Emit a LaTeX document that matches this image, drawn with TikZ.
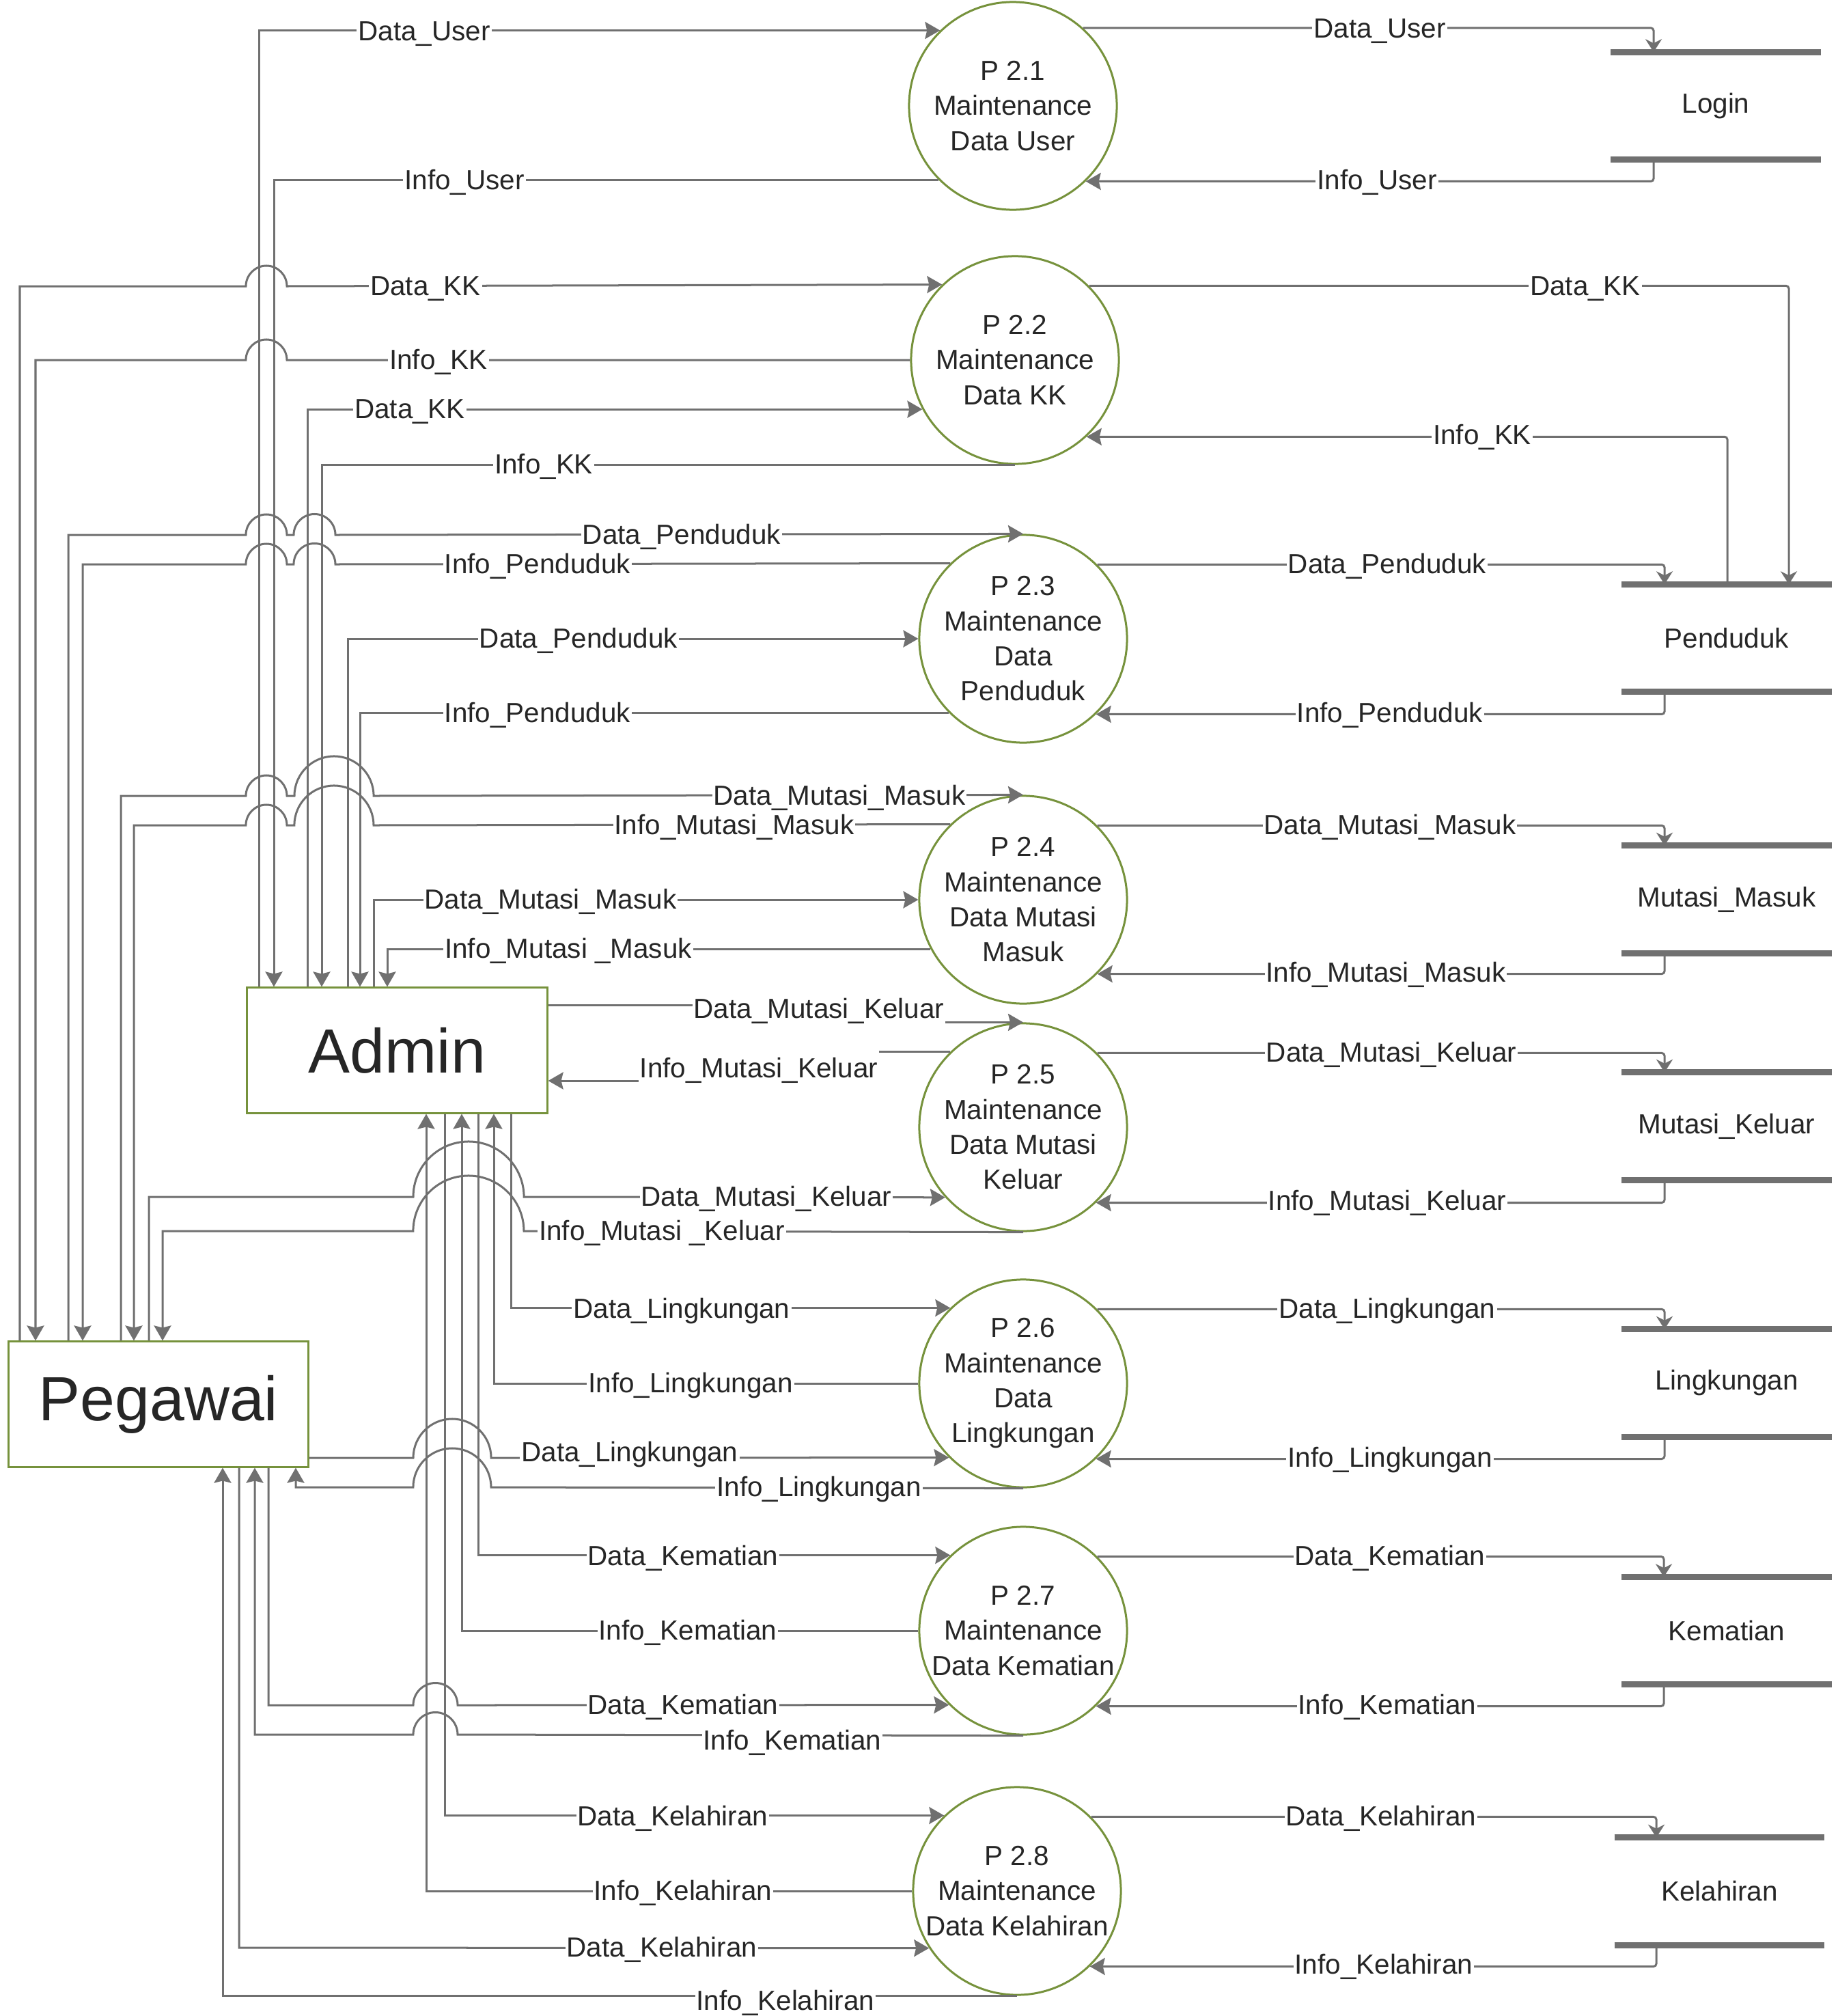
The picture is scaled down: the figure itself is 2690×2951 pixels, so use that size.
\documentclass[tikz,border=0pt]{standalone}
\usepackage{fontspec}
\setmainfont{Liberation Sans}
\usetikzlibrary{arrows.meta}
\definecolor{lg}{RGB}{112,112,112}
\definecolor{gr}{RGB}{118,146,60}
\definecolor{txt}{RGB}{38,38,38}
\newcommand\lblfont{\fontsize{11.5}{14.6}\selectfont}
\newcommand\bigfont{\fontsize{26}{30}\selectfont}
\begin{document}
\begin{tikzpicture}[x=0.01cm,y=-0.01cm,
 conn/.style={draw=lg,line width=0.03cm},
 arr/.style={conn,-{Stealth[length=0.22cm,width=0.25cm,inset=0.03cm]}},
 rarr/.style={arr,rounded corners=0.04cm},
 sarr/.style={conn,rounded corners=0.04cm,-{Stealth[length=0.19cm,width=0.24cm,inset=0.06cm]}},
 proc/.style={circle,draw=gr,line width=0.03cm,minimum size=3.04cm,inner sep=0pt,align=center,font=\lblfont,text=txt},
 ent/.style={rectangle,draw=gr,line width=0.03cm,inner sep=0pt,minimum height=1.83cm,font=\bigfont,text=txt},
 store/.style={minimum width=3.06cm,minimum height=1.56cm,inner sep=0pt,font=\lblfont,text=txt},
 sline/.style={draw=lg,line width=0.09cm},
 lab/.style={fill=white,inner xsep=0.02cm,inner ysep=0.03cm,font=\lblfont,text=txt,anchor=base,yshift=-0.13cm}
]
\useasboundingbox (0,0) rectangle (2690,2951);

% processes
\node[proc] (p1) at (1483,155) {P 2.1\\Maintenance\\Data User};
\node[proc] (p2) at (1486,527) {P 2.2\\Maintenance\\Data KK};
\node[proc] (p3) at (1498,935) {P 2.3\\Maintenance\\Data\\Penduduk};
\node[proc] (p4) at (1498,1317) {P 2.4\\Maintenance\\Data Mutasi\\Masuk};
\node[proc] (p5) at (1498,1650) {P 2.5\\Maintenance\\Data Mutasi\\Keluar};
\node[proc] (p6) at (1498,2025) {P 2.6\\Maintenance\\Data\\Lingkungan};
\node[proc] (p7) at (1498,2387) {P 2.7\\Maintenance\\Data Kematian};
\node[proc] (p8) at (1489,2768) {P 2.8\\Maintenance\\Data Kelahiran};

% entities
\node[ent,minimum width=4.39cm] (admin) at (581.5,1537.5) {Admin};
\node[ent,minimum width=4.38cm] (peg) at (232,2055.5) {Pegawai};

% stores
\node[store] (s1) at (2512,155) {Login};
\node[store] (s2) at (2528,934) {Penduduk};
\node[store] (s3) at (2528,1316.5) {Mutasi\_Masuk};
\node[store] (s4) at (2528,1648.5) {Mutasi\_Keluar};
\node[store] (s5) at (2528,2024.5) {Lingkungan};
\node[store] (s6) at (2528,2387) {Kematian};
\node[store] (s7) at (2517.5,2768.5) {Kelahiran};
\foreach \i in {1,...,7} {
  \draw[sline] (s\i.north west) -- (s\i.north east);
  \draw[sline] (s\i.south west) -- (s\i.south east);
}

% Admin top
\draw[arr] (379,0 |- admin.north) |- (p1.134.2);
\draw[arr] (p1.225.8) -| (401,0 |- admin.north);
\draw[arr] (450,0 |- admin.north) |- (p2.208.3);
\draw[arr] (p2.south) -| (471,0 |- admin.north);
\draw[arr] (509,0 |- admin.north) |- (p3.west);
\draw[arr] (p3.225.8) -| (527,0 |- admin.north);
\draw[arr] (547,0 |- admin.north) |- (p4.west);
\draw[arr] (p4.208.3) -| (567,0 |- admin.north);
% Admin right
\draw[arr] (admin.east |- 0,1471) -- (1300,1471) -- (1300,0 |- p5.north) -- (p5.north);
\draw[arr] (p5.134.2) -- (1200,0 |- p5.134.2) -- (1200,1582) -- (admin.east |- 0,1582);
% Admin bottom
\draw[arr] (748,0 |- admin.south) |- (p6.134.2);
\draw[arr] (p6.west) -| (723,0 |- admin.south);
\draw[arr] (700,0 |- admin.south) |- (p7.134.2);
\draw[arr] (p7.west) -| (676,0 |- admin.south);
\draw[arr] (651,0 |- admin.south) |- (p8.134.2);
\draw[arr] (p8.west) -| (624,0 |- admin.south);

% Pegawai top
\draw[arr] (29,0 |- peg.north) -- (29,419) -- (360,419) arc[start angle=180,end angle=0,radius=0.3cm] -- (p2.134.7);
\draw[arr] (p2.west) -- (420,527) arc[start angle=0,end angle=180,radius=0.3cm] -- (52,527) -- (52,0 |- peg.north);
\draw[arr] (100,0 |- peg.north) -- (100,783) -- (360,783) arc[start angle=180,end angle=0,radius=0.3cm] -- (430,783) arc[start angle=180,end angle=0,radius=0.305cm] -- (p3.north);
\draw[arr] (p3.134.2) -- (491,826) arc[start angle=0,end angle=180,radius=0.305cm] -- (420,826) arc[start angle=0,end angle=180,radius=0.3cm] -- (121,826) -- (121,0 |- peg.north);
\draw[arr] (177,0 |- peg.north) -- (177,1165) -- (360,1165) arc[start angle=180,end angle=0,radius=0.3cm] -- (431,1165) arc[start angle=180,end angle=0,radius=0.58cm] -- (p4.north);
\draw[arr] (p4.134.2) -- (547,1208) arc[start angle=0,end angle=180,radius=0.58cm] -- (420,1208) arc[start angle=0,end angle=180,radius=0.3cm] -- (196,1208) -- (196,0 |- peg.north);
\draw[arr] (218,0 |- peg.north) -- (218,1752) -- (605,1752) arc[start angle=180,end angle=0,radius=0.81cm] -- (p5.222.2);
\draw[arr] (p5.south) -- (767,1802) arc[start angle=0,end angle=180,radius=0.81cm] -- (238,1802) -- (238,0 |- peg.north);
% Pegawai right
\draw[arr] (peg.east |- 0,2134) -- (605,2134) arc[start angle=180,end angle=0,radius=0.57cm] -- (p6.225.8);
\draw[arr] (p6.south) -- (719,2177) arc[start angle=0,end angle=180,radius=0.57cm] -- (433,2177) -- (433,0 |- peg.south);
% Pegawai bottom
\draw[arr] (393,0 |- peg.south) -- (393,2496) -- (605,2496) arc[start angle=180,end angle=0,radius=0.325cm] -- (p7.225.8);
\draw[arr] (p7.south) -- (670,2539) arc[start angle=0,end angle=180,radius=0.325cm] -- (373,2539) -- (373,0 |- peg.south);
\draw[arr] (350,0 |- peg.south) -- (350,2851) -- (p8.213.1);
\draw[arr] (p8.south) -- (326,0 |- p8.south) -- (326,0 |- peg.south);

% right side
\draw[sarr] (p1.48) -| (2421,0 |- s1.north);
\draw[rarr] (2421,0 |- s1.south) |- (p1.314.2);
\draw[sarr] (p2.45.3) -| (2619,0 |- s2.north);
\draw[rarr] (2529,0 |- s2.north) |- (p2.313.6);
\draw[sarr] (p3.45.8) -| (2437,0 |- s2.north);
\draw[rarr] (2437,0 |- s2.south) |- (p3.314.2);
\draw[sarr] (p4.45.8) -| (2437,0 |- s3.north);
\draw[rarr] (2437,0 |- s3.south) |- (p4.315.3);
\draw[sarr] (p5.45.8) -| (2437,0 |- s4.north);
\draw[rarr] (2437,0 |- s4.south) |- (p5.314.7);
\draw[sarr] (p6.45.8) -| (2437,0 |- s5.north);
\draw[rarr] (2437,0 |- s5.south) |- (p6.314.2);
\draw[sarr] (p7.45.8) -| (2436,0 |- s6.north);
\draw[rarr] (2436,0 |- s6.south) |- (p7.314.2);
\draw[sarr] (p8.45.8) -| (2425,0 |- s7.north);
\draw[rarr] (2425,0 |- s7.south) |- (p8.314.7);

% labels left
\node[lab] (l1) at (621,46) {Data\_User};
\node[lab] (l2) at (680,264) {Info\_User};
\node[lab] (l3) at (623,419) {Data\_KK};
\node[lab] (l4) at (642,527) {Info\_KK};
\node[lab] (l5) at (600,599) {Data\_KK};
\node[lab] (l6) at (796,680) {Info\_KK};
\node[lab] (l7) at (998,783) {Data\_Penduduk};
\node[lab] (l8) at (787,826) {Info\_Penduduk};
\node[lab] (l9) at (847,935) {Data\_Penduduk};
\node[lab] (l10) at (787,1044) {Info\_Penduduk};
\node[lab] (l11) at (1229,1165) {Data\_Mutasi\_Masuk};
\node[lab] (l12) at (1075,1208) {Info\_Mutasi\_Masuk};
\node[lab] (l13) at (806,1317) {Data\_Mutasi\_Masuk};
\node[lab] (l14) at (832,1389) {Info\_Mutasi \_Masuk};
\node[lab,inner ysep=0.08cm] (l15) at (1199,1477) {Data\_Mutasi\_Keluar};
\node[lab,inner ysep=0.11cm] (l16) at (1111,1564) {Info\_Mutasi\_Keluar};
\node[lab] (l17) at (1122,1752) {Data\_Mutasi\_Keluar};
\node[lab] (l18) at (969,1802) {Info\_Mutasi \_Keluar};
\node[lab] (l19) at (998,1916) {Data\_Lingkungan};
\node[lab] (l20) at (1011,2025) {Info\_Lingkungan};
\node[lab] (l21) at (922,2126) {Data\_Lingkungan};
\node[lab] (l22) at (1199,2177) {Info\_Lingkungan};
\node[lab] (l23) at (1000,2278) {Data\_Kematian};
\node[lab] (l24) at (1007,2387) {Info\_Kematian};
\node[lab] (l25) at (1000,2496) {Data\_Kematian};
\node[lab] (l26) at (1160,2548) {Info\_Kematian};
\node[lab] (l27) at (985,2659) {Data\_Kelahiran};
\node[lab] (l28) at (1000,2768) {Info\_Kelahiran};
\node[lab] (l29) at (969,2851) {Data\_Kelahiran};
\node[lab] (l30) at (1150,2929) {Info\_Kelahiran};
% labels right
\node[lab] (r1) at (2020,42) {Data\_User};
\node[lab] (r2) at (2016,264) {Info\_User};
\node[lab] (r3) at (2321,419) {Data\_KK};
\node[lab] (r4) at (2170,637) {Info\_KK};
\node[lab] (r5) at (2031,826) {Data\_Penduduk};
\node[lab] (r6) at (2035,1044) {Info\_Penduduk};
\node[lab] (r7) at (2035,1208) {Data\_Mutasi\_Masuk};
\node[lab] (r8) at (2029,1424) {Info\_Mutasi\_Masuk};
\node[lab] (r9) at (2037,1541) {Data\_Mutasi\_Keluar};
\node[lab] (r10) at (2031,1758) {Info\_Mutasi\_Keluar};
\node[lab] (r11) at (2031,1916) {Data\_Lingkungan};
\node[lab] (r12) at (2035,2134) {Info\_Lingkungan};
\node[lab] (r13) at (2035,2278) {Data\_Kematian};
\node[lab] (r14) at (2031,2496) {Info\_Kematian};
\node[lab] (r15) at (2022,2659) {Data\_Kelahiran};
\node[lab] (r16) at (2026,2876) {Info\_Kelahiran};
\end{tikzpicture}
\end{document}
